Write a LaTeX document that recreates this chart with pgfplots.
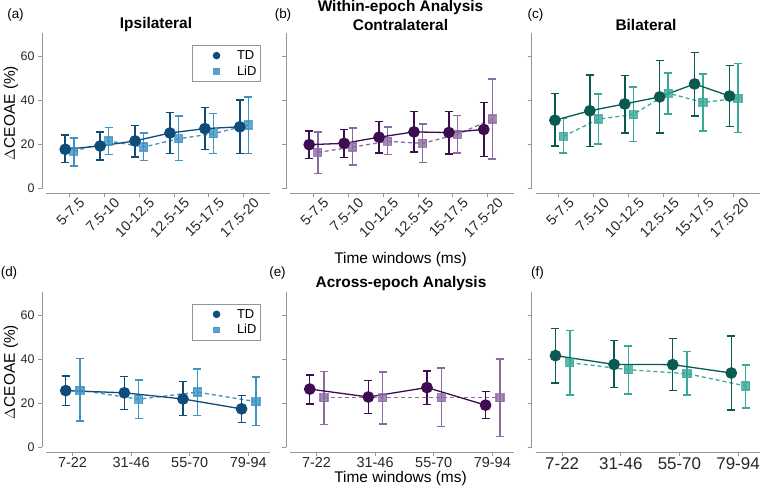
\documentclass[border=0pt]{standalone}
\usepackage{pgfplots}
\pgfplotsset{compat=1.18}
\usepackage{pgfplotstable}
\usepackage{fontspec}
\setmainfont{Liberation Sans}
\definecolor{axisgray}{RGB}{150,150,150}
\definecolor{tdA}{RGB}{15,76,122}
\definecolor{liA}{RGB}{62,146,196}
\definecolor{tdB}{RGB}{62,12,80}
\definecolor{liB}{RGB}{140,108,160}
\definecolor{tdC}{RGB}{10,90,82}
\definecolor{liC}{RGB}{58,168,154}

\pgfplotstableread{
x y lo hi
0 17.9 11.8 24.3
1 19.4 13.1 25.8
2 21.7 14.5 28.7
3 25.3 15.9 34.7
4 27.3 17.7 36.9
5 28.1 16.0 40.3
}\aTD
\pgfplotstableread{
x y lo hi
0 16.9 10.2 23.1
1 21.7 15.6 27.8
2 18.9 12.7 25.3
3 22.7 12.7 33.1
4 25.0 15.9 34.2
5 28.9 15.9 41.7
}\aLiD
\pgfplotstableread{
x y lo hi
0 20.0 13.7 26.3
1 20.6 14.2 27.0
2 23.4 16.3 30.5
3 25.8 16.6 35.0
4 25.5 15.7 35.1
5 26.9 14.7 39.1
}\bTD
\pgfplotstableread{
x y lo hi
0 16.5 7.0 25.8
1 18.9 10.8 27.5
2 21.5 15.6 28.1
3 20.6 11.9 29.5
4 24.7 16.2 33.3
5 31.6 13.4 49.8
}\bLiD
\pgfplotstableread{
x y lo hi
0 31.1 19.4 43.2
1 35.4 19.1 51.6
2 38.5 25.3 51.5
3 41.7 25.2 58.3
4 47.6 33.1 61.8
5 42.1 28.2 56.0
}\cTD
\pgfplotstableread{
x y lo hi
0 23.8 16.2 31.8
1 31.6 20.3 43.1
2 33.7 21.4 46.3
3 43.4 33.9 52.5
4 39.2 26.3 52.1
5 41.1 25.5 56.9
}\cLiD
\pgfplotstableread{
x y lo hi
0 25.8 19.1 32.5
1 24.8 17.3 32.2
2 22.0 14.6 29.9
3 17.5 11.4 23.5
}\dTD
\pgfplotstableread{
x y lo hi
0 26.0 12.0 40.3
1 21.9 13.2 30.7
2 25.1 14.4 35.7
3 20.8 9.9 31.9
}\dLiD
\pgfplotstableread{
x y lo hi
0 26.5 19.7 33.0
1 22.9 15.3 30.3
2 27.2 19.4 34.6
3 19.2 13.2 25.3
}\eTD
\pgfplotstableread{
x y lo hi
0 22.6 10.5 34.5
1 22.6 10.6 34.2
2 22.6 9.4 36.0
3 22.6 4.9 40.1
}\eLiD
\pgfplotstableread{
x y lo hi
0 41.7 29.2 54.1
1 37.7 27.1 48.5
2 37.6 25.9 49.4
3 33.8 17.0 50.6
}\fTD
\pgfplotstableread{
x y lo hi
0 38.5 23.9 53.0
1 35.3 24.2 46.1
2 33.5 23.8 43.6
3 27.9 17.9 37.4
}\fLiD

\pgfplotsset{
  /pgfplots/table/tdtab/.style={x expr=\thisrow{x}-0.115, y=y, y error plus expr=\thisrow{hi}-\thisrow{y}, y error minus expr=\thisrow{y}-\thisrow{lo}},
  /pgfplots/table/lidtab/.style={x expr=\thisrow{x}+0.13, y=y, y error plus expr=\thisrow{hi}-\thisrow{y}, y error minus expr=\thisrow{y}-\thisrow{lo}},
  panel/.style={scale only axis, width=228bp, height=160bp, anchor=south west,
    ymin=-2.1, ymax=70.6, ytick={0,20,40,60},
    axis lines=left, axis line style={-, draw=axisgray, line width=0.9bp},
    y axis line style={shorten <=4.6bp}, x axis line style={shorten <=4bp},
    tick style={draw=axisgray, line width=0.9bp}, tick align=outside, major tick length=4bp,
    yticklabel style={font=\fontsize{12.5}{13}\selectfont, text=black!85},
    /pgf/number format/assume math mode=true, clip=false},
  top/.style={xmin=-0.78, xmax=5.75, xtick={0,1,2,3,4,5},
    xticklabels={5-7.5,7.5-10,10-12.5,12.5-15,15-17.5,17.5-20},
    xticklabel style={rotate=45, anchor=north east, inner sep=1bp, xshift=8bp, yshift=-5bp,
      font=\fontsize{14.3}{15}\selectfont, text=black!85}},
  bot/.style={xmin=-0.52, xmax=3.37, xtick={0,1,2,3},
    xticklabels={7-22,31-46,55-70,79-94},
    xticklabel style={inner sep=1bp, font=\fontsize{14.5}{15}\selectfont, text=black!85}},
  noylab/.style={yticklabels={}},
  ebar/.style={error bars/y dir=both, error bars/y explicit,
    error bars/error bar style={line width=1.5bp, solid, color=#1},
    error bars/error mark options={rotate=90, mark size=4bp, line width=1.5bp, color=#1}},
  td/.style={color=#1, line width=1.3bp, mark=*, mark size=5.2bp, mark options={solid, fill=#1}, ebar=#1},
  lid/.style={color=#1, line width=1.3bp, dash pattern=on 4bp off 3bp, mark=square*, mark size=4bp,
    mark options={solid, fill=#1, draw=#1, opacity=0.8}, ebar=#1},
  leg/.style={legend style={at={(rel axis cs:0.96,0.927)}, anchor=north east, draw=axisgray, line width=0.9bp,
    font=\fontsize{13}{14}\selectfont, inner xsep=2bp, inner ysep=3bp, row sep=1bp, cells={anchor=west}},
    legend image code/.code={\path (-6bp,0bp) (34bp,0bp); \draw[##1] plot coordinates {(16bp,0bp)};}},
}

\begin{document}
\begin{tikzpicture}
% (a)
\begin{axis}[panel, top, leg, at={(42bp,-193.3bp)}]
\addlegendimage{only marks, mark=*, mark size=3.3bp, color=tdA, fill=tdA}
\addlegendentry{TD}
\addlegendimage{only marks, mark=square*, mark size=2.8bp, color=liA, fill=liA, opacity=0.85}
\addlegendentry{LiD}
\addplot[forget plot, lid=liA] table[lidtab] {\aLiD};
\addplot[forget plot, td=tdA] table[tdtab] {\aTD};
\end{axis}
% (b)
\begin{axis}[panel, top, noylab, at={(286bp,-193.3bp)}]
\addplot[lid=liB] table[lidtab] {\bLiD};
\addplot[td=tdB] table[tdtab] {\bTD};
\end{axis}
% (c)
\begin{axis}[panel, top, noylab, at={(531.7bp,-193.3bp)}]
\addplot[lid=liC] table[lidtab] {\cLiD};
\addplot[td=tdC] table[tdtab] {\cTD};
\end{axis}
% (d)
\begin{axis}[panel, bot, leg, at={(42bp,-452bp)}]
\addlegendimage{only marks, mark=*, mark size=3.3bp, color=tdA, fill=tdA}
\addlegendentry{TD}
\addlegendimage{only marks, mark=square*, mark size=2.8bp, color=liA, fill=liA, opacity=0.85}
\addlegendentry{LiD}
\addplot[forget plot, lid=liA] table[lidtab] {\dLiD};
\addplot[forget plot, td=tdA] table[tdtab] {\dTD};
\end{axis}
% (e)
\begin{axis}[panel, bot, noylab, at={(286bp,-452bp)}]
\addplot[lid=liB] table[lidtab] {\eLiD};
\addplot[td=tdB] table[tdtab] {\eTD};
\end{axis}
% (f)
\begin{axis}[panel, bot, noylab, at={(531.7bp,-452bp)},
  xticklabel style={font=\fontsize{17}{18}\selectfont}]
\addplot[lid=liC] table[lidtab] {\fLiD};
\addplot[td=tdC] table[tdtab] {\fTD};
\end{axis}
% labels
\begin{scope}[every node/.style={inner sep=0pt}]
\node[font=\fontsize{13.5}{14}\selectfont] at (15.5bp,-15bp) {(a)};
\node[font=\fontsize{13.5}{14}\selectfont] at (283bp,-15bp) {(b)};
\node[font=\fontsize{13.5}{14}\selectfont] at (535.5bp,-15bp) {(c)};
\node[font=\fontsize{13.5}{14}\selectfont] at (9bp,-272.7bp) {(d)};
\node[font=\fontsize{13.5}{14}\selectfont] at (277.5bp,-273bp) {(e)};
\node[font=\fontsize{13.5}{14}\selectfont] at (537.5bp,-272.7bp) {(f)};
\node[font=\bfseries\fontsize{15.5}{16}\selectfont] at (156bp,-25bp) {Ipsilateral};
\node[font=\bfseries\fontsize{15.5}{16}\selectfont] at (400.5bp,-7.5bp) {Within-epoch Analysis};
\node[font=\bfseries\fontsize{15.5}{16}\selectfont] at (400.5bp,-25bp) {Contralateral};
\node[font=\bfseries\fontsize{15.5}{16}\selectfont] at (646bp,-25bp) {Bilateral};
\node[font=\bfseries\fontsize{15.5}{16}\selectfont] at (401bp,-284bp) {Across-epoch Analysis};
\node[font=\fontsize{15.5}{16}\selectfont] at (400.5bp,-259bp) {Time windows (ms)};
\node[font=\fontsize{15.5}{16}\selectfont] at (400.5bp,-478bp) {Time windows (ms)};
\node[font=\fontsize{15.5}{16}\selectfont, rotate=90] at (11bp,-113bp) {$\Delta$CEOAE (\%)};
\node[font=\fontsize{15.5}{16}\selectfont, rotate=90] at (11bp,-372bp) {$\Delta$CEOAE (\%)};
\end{scope}
\pgfresetboundingbox
\useasboundingbox (0,0) rectangle (760bp,-496bp);
\end{tikzpicture}
\end{document}
